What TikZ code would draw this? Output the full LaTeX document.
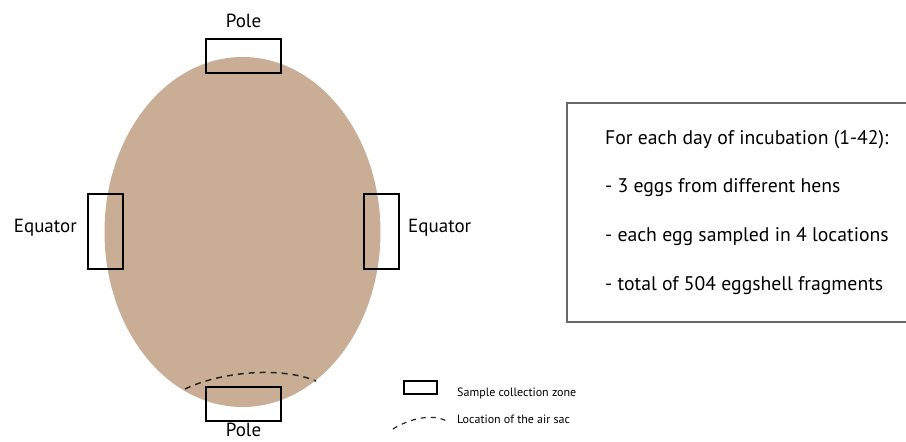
\documentclass[tikz,border=0pt]{standalone}
\usepackage{fontspec}
\setmainfont{PT Sans}
\definecolor{shell}{RGB}{201,173,149}
\definecolor{boxgray}{RGB}{105,105,105}
\tikzset{
  zone/.style={draw=black, line width=2pt, fill=none},
  lbl/.style={inner sep=0pt, anchor=base, font=\fontsize{19}{19}\selectfont},
  info/.style={inner sep=0pt, anchor=base west, font=\fontsize{19.7}{20}\selectfont},
  legendtxt/.style={inner sep=0pt, anchor=base west, font=\fontsize{12}{12}\selectfont},
  airsac/.style={dashed, dash pattern=on 6pt off 5pt, line width=1.5pt, black!85}
}
\begin{document}
\begin{tikzpicture}[x=1pt,y=-1pt]
\useasboundingbox (0,0) rectangle (906,442);

% egg body
\fill[shell] (242.5,232) ellipse [x radius=138, y radius=175];

% air sac boundary
\draw[airsac] (185,389) .. controls (220,372) and (280,366) .. (316,381);

% sample collection zones
\node[zone, minimum width=75pt, minimum height=34pt, inner sep=0pt] (ptop) at (243.5,56) {};
\node[zone, minimum width=75pt, minimum height=34pt, inner sep=0pt] (pbot) at (243.5,404) {};
\node[zone, minimum width=35pt, minimum height=75pt, inner sep=0pt] (eleft) at (105.5,231) {};
\node[zone, minimum width=35pt, minimum height=75pt, inner sep=0pt] (eright) at (381,231) {};

% zone labels
\node[lbl] (tpole) at (243.5,27) {Pole};
\node[lbl] (bpole) at (243.5,436) {Pole};
\node[lbl, anchor=base east] (teq1) at (77,232) {Equator};
\node[lbl, anchor=base west] (teq2) at (408,232) {Equator};

% sampling summary
\draw[boxgray, line width=1.5pt] (567,103) rectangle (912,322);
\node[info] (l1) at (605,144) {For each day of incubation (1-42):};
\node[info] (l2) at (605,192.5) {- 3 eggs from different hens};
\node[info] (l3) at (605,241) {- each egg sampled in 4 locations};
\node[info] (l4) at (605,290) {- total of 504 eggshell fragments};

% legend
\node[zone, line width=1.8pt, minimum width=33pt, minimum height=13pt, inner sep=0pt] (lgbox) at (420.5,387.5) {};
\node[legendtxt] (lgt1) at (457,396) {Sample collection zone};
\coordinate (ls) at (393,429);
\coordinate (le) at (448,422);
\draw[airsac, line width=1.2pt, dash pattern=on 5pt off 5pt] (ls) .. controls (410,418) and (435,413) .. (le);
\node[legendtxt] (lgt2) at (457,423) {Location of the air sac};
\end{tikzpicture}
\end{document}
